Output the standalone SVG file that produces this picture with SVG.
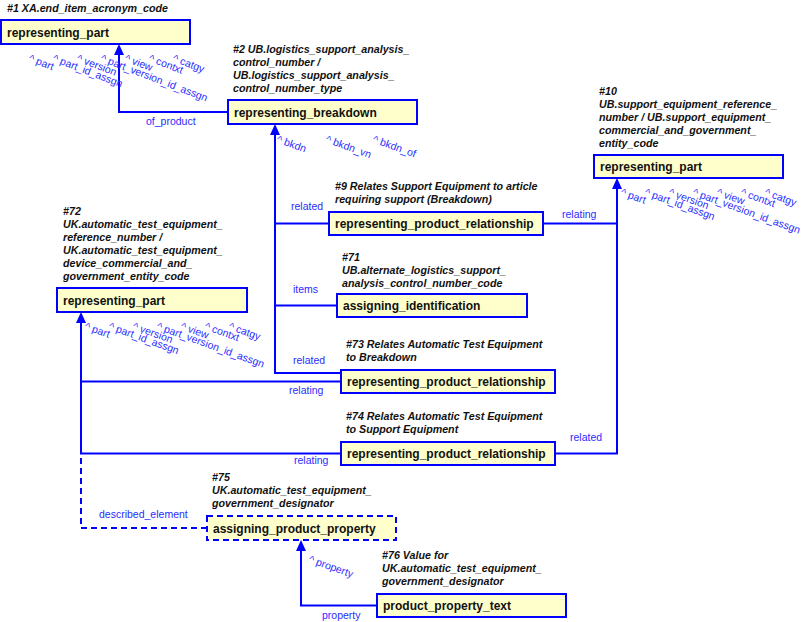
<svg xmlns="http://www.w3.org/2000/svg" width="802" height="622" viewBox="0 0 802 622">
<style>
.box{fill:#ffffcc;stroke:#0000ff;stroke-width:2}
.dbox{fill:#ffffcc;stroke:#0000ff;stroke-width:2;stroke-dasharray:6,4}
.name{font-family:"Liberation Sans",Arial,sans-serif;font-size:12px;font-weight:bold;fill:#111}
.note{font-family:"Liberation Sans",Arial,sans-serif;font-size:10.7px;font-weight:bold;font-style:italic;fill:#111}
.lbl{font-family:"Liberation Sans",Arial,sans-serif;font-size:10.5px;fill:#2b2bff}
.ln{fill:none;stroke:#0000ff;stroke-width:2}
.dln{fill:none;stroke:#0000ff;stroke-width:2;stroke-dasharray:6,4}
.ah{fill:#0000ff}
</style>
<rect width="802" height="622" fill="#ffffff"/>
<g id="connectors">
<path class="ln" d="M228,112 H119 V50"/>
<path class="ln" d="M329,223.5 H275 V130 M337,305.5 H275 M341,373 H275 V223"/>
<path class="ln" d="M543,223.5 H617 V184 M555,453.5 H617 V223"/>
<path class="ln" d="M341,381.5 H81 V318 M341,453.5 H81 V381"/>
<path class="dln" d="M207,528 H81 V453"/>
<path class="ln" d="M377,605.5 H301 V546"/>
<polygon class="ah" points="119,44 114,55 124,55"/>
<polygon class="ah" points="275,124 270,135 280,135"/>
<polygon class="ah" points="617,178 612,189 622,189"/>
<polygon class="ah" points="81,312 76,323 86,323"/>
<polygon class="ah" points="301,540 296,551 306,551"/>
<text class="lbl" x="146" y="125">of_product</text>
<text class="lbl" x="291" y="210">related</text>
<text class="lbl" x="562" y="218">relating</text>
<text class="lbl" x="293" y="293">items</text>
<text class="lbl" x="293" y="364">related</text>
<text class="lbl" x="289" y="394">relating</text>
<text class="lbl" x="294" y="464">relating</text>
<text class="lbl" x="570" y="441">related</text>
<text class="lbl" x="99" y="518">described_element</text>
<text class="lbl" x="322" y="619">property</text>
<text class="lbl" transform="translate(308,562) rotate(20)">^ property</text>
<text class="lbl" transform="translate(276,142) rotate(20)">^ bkdn</text>
<text class="lbl" transform="translate(325,142) rotate(20)">^ bkdn_vn</text>
<text class="lbl" transform="translate(372,142) rotate(20)">^ bkdn_of</text>
</g>
<g id="node1">
<text class="note" x="7" y="12">#1 XA.end_item_acronym_code</text>
<rect class="box" x="1" y="20" width="189" height="24"/>
<text class="name" x="7" y="36.5">representing_part</text>
<g class="lbl">
<text transform="translate(28,61) rotate(21)">^ part</text>
<text transform="translate(52,61) rotate(21)">^ part_id_assgn</text>
<text transform="translate(76,61) rotate(21)">^ version</text>
<text transform="translate(100,61) rotate(21)">^ part_version_id_assgn</text>
<text transform="translate(124,61) rotate(21)">^ view</text>
<text transform="translate(148,61) rotate(21)">^ contxt</text>
<text transform="translate(172,61) rotate(21)">^ catgy</text>
</g>
</g>
<g id="node2">
<text class="note" x="233" y="53">#2 UB.logistics_support_analysis_</text>
<text class="note" x="233" y="66">control_number /</text>
<text class="note" x="233" y="79">UB.logistics_support_analysis_</text>
<text class="note" x="233" y="92">control_number_type</text>
<rect class="box" x="228" y="100" width="189" height="24"/>
<text class="name" x="234" y="116.5">representing_breakdown</text>
</g>
<g id="node10">
<text class="note" x="599" y="95">#10</text>
<text class="note" x="599" y="108">UB.support_equipment_reference_</text>
<text class="note" x="599" y="121">number / UB.support_equipment_</text>
<text class="note" x="599" y="134">commercial_and_government_</text>
<text class="note" x="599" y="147">entity_code</text>
<rect class="box" x="594" y="155" width="189" height="23"/>
<text class="name" x="600" y="171">representing_part</text>
<g class="lbl">
<text transform="translate(620,195) rotate(20)">^ part</text>
<text transform="translate(644,195) rotate(20)">^ part_id_assgn</text>
<text transform="translate(668,195) rotate(20)">^ version</text>
<text transform="translate(692,195) rotate(20)">^ part_version_id_assgn</text>
<text transform="translate(716,195) rotate(20)">^ view</text>
<text transform="translate(740,195) rotate(20)">^ contxt</text>
<text transform="translate(764,195) rotate(20)">^ catgy</text>
</g>
</g>
<g id="node9">
<text class="note" x="335" y="190">#9 Relates Support Equipment to article</text>
<text class="note" x="335" y="203">requiring support (Breakdown)</text>
<rect class="box" x="329" y="212" width="214" height="23"/>
<text class="name" x="335" y="228">representing_product_relationship</text>
</g>
<g id="node71">
<text class="note" x="342" y="261">#71</text>
<text class="note" x="342" y="274">UB.alternate_logistics_support_</text>
<text class="note" x="342" y="287">analysis_control_number_code</text>
<rect class="box" x="337" y="294" width="190" height="23"/>
<text class="name" x="343" y="310">assigning_identification</text>
</g>
<g id="node72">
<text class="note" x="63" y="215">#72</text>
<text class="note" x="63" y="228">UK.automatic_test_equipment_</text>
<text class="note" x="63" y="241">reference_number /</text>
<text class="note" x="63" y="254">UK.automatic_test_equipment_</text>
<text class="note" x="63" y="267">device_commercial_and_</text>
<text class="note" x="63" y="280">government_entity_code</text>
<rect class="box" x="57" y="288" width="190" height="24"/>
<text class="name" x="63" y="304.5">representing_part</text>
<g class="lbl">
<text transform="translate(84,329) rotate(20)">^ part</text>
<text transform="translate(108,329) rotate(20)">^ part_id_assgn</text>
<text transform="translate(132,329) rotate(20)">^ version</text>
<text transform="translate(156,329) rotate(20)">^ part_version_id_assgn</text>
<text transform="translate(180,329) rotate(20)">^ view</text>
<text transform="translate(204,329) rotate(20)">^ contxt</text>
<text transform="translate(228,329) rotate(20)">^ catgy</text>
</g>
</g>
<g id="node73">
<text class="note" x="346" y="348">#73 Relates Automatic Test Equipment</text>
<text class="note" x="346" y="361">to Breakdown</text>
<rect class="box" x="341" y="370" width="214" height="23"/>
<text class="name" x="347" y="386">representing_product_relationship</text>
</g>
<g id="node74">
<text class="note" x="346" y="420">#74 Relates Automatic Test Equipment</text>
<text class="note" x="346" y="433">to Support Equipment</text>
<rect class="box" x="341" y="442" width="214" height="23"/>
<text class="name" x="347" y="458">representing_product_relationship</text>
</g>
<g id="node75">
<text class="note" x="212" y="481">#75</text>
<text class="note" x="212" y="494">UK.automatic_test_equipment_</text>
<text class="note" x="212" y="507">government_designator</text>
<rect class="dbox" x="207" y="516" width="189" height="24"/>
<text class="name" x="213" y="532.5">assigning_product_property</text>
</g>
<g id="node76">
<text class="note" x="382" y="559">#76 Value for</text>
<text class="note" x="382" y="572">UK.automatic_test_equipment_</text>
<text class="note" x="382" y="585">government_designator</text>
<rect class="box" x="377" y="594" width="189" height="23"/>
<text class="name" x="383" y="610">product_property_text</text>
</g>
</svg>
